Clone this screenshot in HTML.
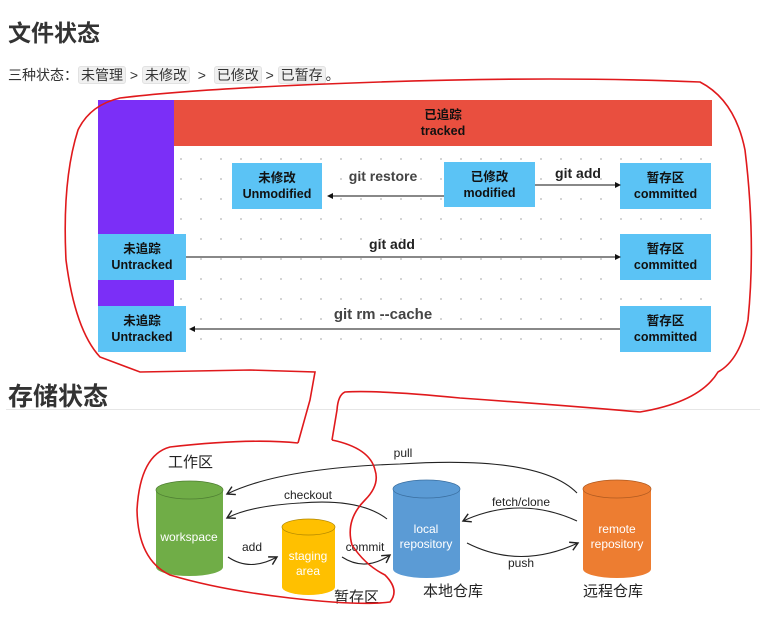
<!DOCTYPE html>
<html><head><meta charset="utf-8"><style>
body{margin:0;width:760px;height:624px;background:#fff;position:relative;overflow:hidden;font-family:"Liberation Sans","Noto Sans CJK SC",sans-serif;color:#333}
.a{position:absolute}
.box{position:absolute;background:#5bc3f5;color:#111;font-size:12.5px;font-weight:bold;text-align:center;line-height:16px;display:flex;flex-direction:column;justify-content:center}
.tag{background:#f0f0f0;border:1px solid #e2e2e2;border-radius:3px;padding:0 2px}
.lbl{position:absolute;font-size:14px;font-weight:bold;color:#222;transform:translateX(-50%);white-space:nowrap}
.sl{position:absolute;font-size:12px;color:#222;transform:translateX(-50%);white-space:nowrap}
.cl{position:absolute;font-size:15px;color:#222;white-space:nowrap}
</style></head><body>
<div class="a" style="left:8px;top:14px;font-size:23px;font-weight:bold;">文件状态</div>
<div class="a" style="left:8px;top:65px;font-size:14px;">三种状态：<span class="tag">未管理</span> &gt; <span class="tag">未修改</span> &nbsp;&gt; &nbsp;<span class="tag">已修改</span> &gt; <span class="tag">已暂存</span>。</div>

<div class="a" style="left:174px;top:146px;width:538px;height:206px;background-image:radial-gradient(circle,#ccc 0.8px,transparent 1.2px);background-size:20px 20px;background-position:-3px 3px"></div>
<div class="a" style="left:98px;top:100px;width:76px;height:252px;background:#7b2ff7"></div>
<div class="box" style="left:174px;top:100px;width:538px;height:46px;background:#e94f3f">已追踪<br>tracked</div>
<div class="box" style="left:232px;top:163px;width:90px;height:46px">未修改<br>Unmodified</div>
<div class="box" style="left:444px;top:162px;width:91px;height:45px">已修改<br>modified</div>
<div class="box" style="left:620px;top:163px;width:91px;height:46px">暂存区<br>committed</div>
<div class="box" style="left:98px;top:234px;width:88px;height:46px">未追踪<br>Untracked</div>
<div class="box" style="left:620px;top:234px;width:91px;height:46px">暂存区<br>committed</div>
<div class="box" style="left:98px;top:306px;width:88px;height:46px">未追踪<br>Untracked</div>
<div class="box" style="left:620px;top:306px;width:91px;height:46px">暂存区<br>committed</div>
<div class="lbl" style="left:383px;top:168px;font-weight:bold;color:#444">git restore</div>
<div class="lbl" style="left:578px;top:165px">git add</div>
<div class="lbl" style="left:392px;top:236px">git add</div>
<div class="lbl" style="left:383px;top:306px;font-size:15px;color:#444">git rm --cache</div>

<div class="a" style="left:8px;top:377px;font-size:25px;font-weight:bold;">存储状态</div>
<div class="a" style="left:6px;top:409px;width:754px;height:1px;background:#e6e6e6"></div>

<div class="cl" style="left:168px;top:451px">工作区</div>
<div class="cl" style="left:334px;top:586px">暂存区</div>
<div class="cl" style="left:423px;top:580px">本地仓库</div>
<div class="cl" style="left:583px;top:580px">远程仓库</div>
<div class="sl" style="left:403px;top:446px">pull</div>
<div class="sl" style="left:308px;top:488px">checkout</div>
<div class="sl" style="left:521px;top:495px">fetch/clone</div>
<div class="sl" style="left:252px;top:540px">add</div>
<div class="sl" style="left:365px;top:540px">commit</div>
<div class="sl" style="left:521px;top:556px">push</div>

<svg class="a" style="left:0;top:0" width="760" height="624">
<defs><marker id="m" markerWidth="6" markerHeight="6" refX="5" refY="3" orient="auto"><path d="M0,0L6,3L0,6z" fill="#111"/></marker>
<marker id="k" markerWidth="10" markerHeight="10" refX="8" refY="5" orient="auto"><path d="M1,1L8,5L1,9" fill="none" stroke="#222" stroke-width="1.3"/></marker></defs>
<g stroke="#111" stroke-width="1" fill="none">
<line x1="444" y1="196" x2="328" y2="196" marker-end="url(#m)"/>
<line x1="535" y1="185" x2="620" y2="185" marker-end="url(#m)"/>
<line x1="186" y1="257" x2="620" y2="257" marker-end="url(#m)"/>
<line x1="620" y1="329" x2="190" y2="329" marker-end="url(#m)"/>
</g>
<g fill="#70ad47"><path d="M156,490 v77 a33.5,9 0 0 0 67,0 v-77z"/><ellipse cx="189.5" cy="490" rx="33.5" ry="9" stroke="#4f7f33" stroke-width="0.7"/></g>
<g fill="#ffc000"><path d="M282,527 v60 a26.5,8 0 0 0 53,0 v-60z"/><ellipse cx="308.5" cy="527" rx="26.5" ry="8" stroke="#b08600" stroke-width="0.7"/></g>
<g fill="#5b9bd5"><path d="M393,489 v80 a33.5,9 0 0 0 67,0 v-80z"/><ellipse cx="426.5" cy="489" rx="33.5" ry="9" stroke="#3b6fa0" stroke-width="0.7"/></g>
<g fill="#ed7d31"><path d="M583,489 v80 a34,9 0 0 0 68,0 v-80z"/><ellipse cx="617" cy="489" rx="34" ry="9" stroke="#b05a20" stroke-width="0.7"/></g>
<g fill="#fff" font-size="12" text-anchor="middle" font-family="Liberation Sans,sans-serif">
<text x="189" y="541">workspace</text>
<text x="308" y="560">staging</text><text x="308" y="575">area</text>
<text x="426" y="533">local</text><text x="426" y="548">repository</text>
<text x="617" y="533">remote</text><text x="617" y="548">repository</text>
</g>
<g stroke="#222" stroke-width="1.1" fill="none" marker-end="url(#k)">
<path d="M577,493 Q540,455 400,464 Q280,468 227,494"/>
<path d="M387,519 Q360,498 300,503 Q250,506 227,518"/>
<path d="M228,557 Q250,572 277,557"/>
<path d="M342,557 Q365,572 390,555"/>
<path d="M577,521 Q520,495 463,521"/>
<path d="M467,543 Q520,570 578,543"/>
</g>
<g stroke="#e0191c" stroke-width="1.6" fill="none">
<path d="M298,443 L310,400 L315,372 L250,370 L140,372 L100,357 Q75,330 66,260 Q62,180 78,130 Q90,105 120,98 Q200,88 380,82 Q560,76 700,82 Q735,100 745,150 Q756,240 748,320 Q740,360 718,372 Q700,402 640,412 Q560,405 460,398 Q380,390 345,392 Q338,395 337,410 L332,440"/>
<path d="M298,443 Q250,438 170,447 Q140,455 137,510 Q138,560 170,575 Q220,590 290,598 Q360,606 390,602 Q400,590 385,575 Q365,565 352,545 Q345,520 365,500 Q380,485 375,470 Q370,448 332,440"/>
</g>
</svg>
</body></html>
